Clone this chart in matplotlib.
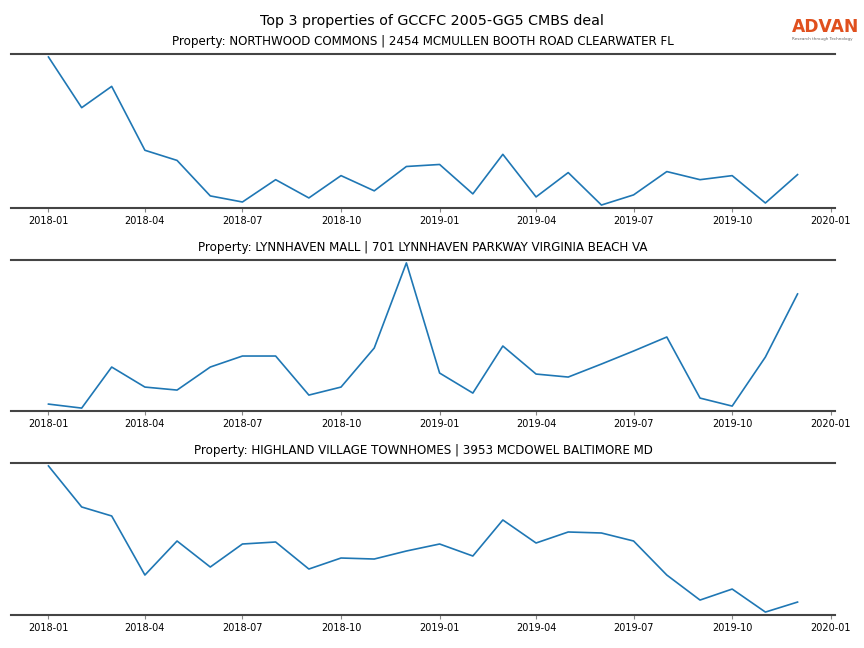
import matplotlib
matplotlib.use("Agg")
import matplotlib.pyplot as plt
import pandas as pd

months = pd.date_range("2018-01-01", "2019-12-01", freq="MS")

titles = [
    "Property: NORTHWOOD COMMONS | 2454 MCMULLEN BOOTH ROAD CLEARWATER FL",
    "Property: LYNNHAVEN MALL | 701 LYNNHAVEN PARKWAY VIRGINIA BEACH VA",
    "Property: HIGHLAND VILLAGE TOWNHOMES | 3953 MCDOWEL BALTIMORE MD",
]

northwood = [1540, 1040, 1250, 620, 520, 170, 110, 330, 150, 370,
             220, 460, 480, 190, 580, 160, 400, 80, 180, 410,
             330, 370, 100, 380]
lynnhaven = [460, 420, 830, 630, 600, 830, 940, 940, 550, 630,
             1020, 1870, 770, 570, 1040, 760, 730, 860, 990, 1130,
             520, 440, 930, 1560]
highland = [1540, 1130, 1040, 450, 790, 530, 760, 780, 510, 620,
            610, 690, 760, 640, 1000, 770, 880, 870, 790, 450,
            200, 310, 80, 180]

series = [northwood, lynnhaven, highland]

fig = plt.figure(figsize=(8.64, 6.48), dpi=100)
H = 648.0
W = 864.0
boxes = [(54, 208), (260, 411), (463, 615)]
left = 11 / W
width = (835 - 11) / W

for (top_px, bot_px), title, vals in zip(boxes, titles, series):
    ax = fig.add_axes([left, 1 - bot_px / H, width, (bot_px - top_px) / H])
    ax.plot(months, vals, color="#1f77b4", linewidth=1.2)
    ax.margins(y=0.02)
    ax.set_title(title, fontsize=8.6, pad=6.5)
    ax.set_yticks([])
    ax.spines["left"].set_visible(False)
    ax.spines["right"].set_visible(False)
    for s in ["top", "bottom"]:
        ax.spines[s].set_color("#444444")
        ax.spines[s].set_linewidth(1.5)
    ticks = pd.date_range("2018-01-01", "2020-01-01", freq="3MS")
    ax.set_xticks(ticks)
    ax.set_xticklabels([t.strftime("%Y-%m") for t in ticks], fontsize=7)
    ax.tick_params(axis="x", length=3, color="#888888", pad=3)

fig.suptitle("Top 3 properties of GCCFC 2005-GG5 CMBS deal", fontsize=10.3, y=0.978)

fig.text(0.9165, 0.958, "ADVAN", color="#e0501e", fontsize=12.3, ha="left", va="center", fontweight="bold")
fig.text(0.9165, 0.94, "Research through Technology", color="#666666", fontsize=3, ha="left", va="center")

fig.savefig("out.png", dpi=100)
